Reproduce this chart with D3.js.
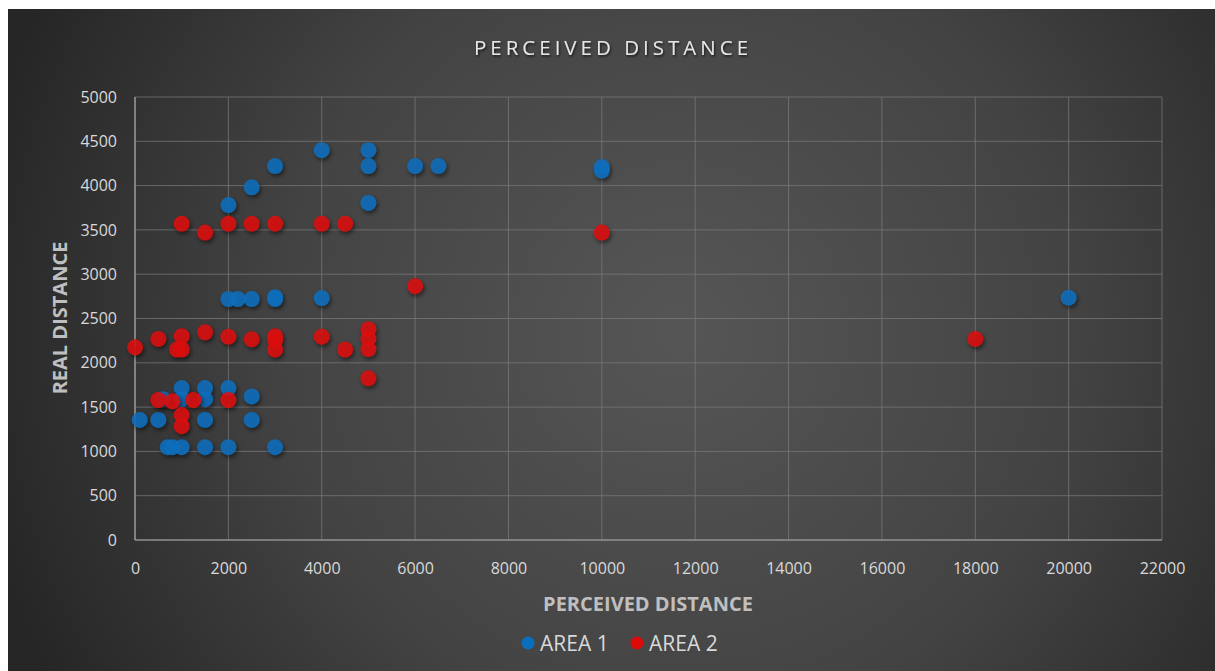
<!DOCTYPE html>
<html>
<head>
<meta charset="utf-8">
<script src="https://cdn.jsdelivr.net/npm/d3@7"></script>
<style>
  html, body { margin: 0; padding: 0; background: #ffffff; }
  svg { display: block; }
</style>
</head>
<body>
<svg id="chart" width="1215" height="671"></svg>
<script>
// Series values: perceived distance (x) vs real distance (y)
const area1X = [4000, 5000, 3000, 5000, 6000, 6500, 10000, 10000, 2500, 2000, 5000,
                2000, 2200, 2500, 3000, 3000, 4000, 20000,
                1000, 1500, 2000, 600, 1000, 1500, 2500,
                100, 500, 1500, 2500,
                700, 800, 1000, 1500, 2000, 3000];
const area1Y = [4400, 4400, 4220, 4220, 4220, 4220, 4210, 4170, 3980, 3780, 3805,
                2720, 2720, 2720, 2720, 2740, 2730, 2735,
                1715, 1715, 1715, 1590, 1590, 1590, 1620,
                1355, 1355, 1355, 1355,
                1048, 1048, 1048, 1048, 1048, 1048];

const area2X = [1000, 2000, 2500, 3000, 4000, 4500, 1500, 10000, 6000, 18000,
                0, 500, 1000, 900, 1000, 1500, 2000, 2500, 3000, 3000, 3000,
                4000, 4500, 5000, 5000, 5000, 5000,
                500, 800, 1250, 2000, 1000, 1000];
const area2Y = [3570, 3570, 3570, 3570, 3570, 3570, 3470, 3470, 2865, 2270,
                2175, 2270, 2300, 2150, 2150, 2345, 2295, 2265, 2300, 2255, 2150,
                2295, 2150, 2380, 2275, 2155, 1825,
                1580, 1565, 1580, 1580, 1410, 1285];

const xTicks = [0, 2000, 4000, 6000, 8000, 10000, 12000, 14000, 16000, 18000, 20000, 22000];
const yTicks = [0, 500, 1000, 1500, 2000, 2500, 3000, 3500, 4000, 4500, 5000];

const seriesNames = ["AREA 1", "AREA 2"];
const seriesColors = ["#0a6ebd", "#dd0a0a"];

const chartTitle = "PERCEIVED DISTANCE";
const xTitle = "PERCEIVED DISTANCE";
const yTitle = "REAL DISTANCE";

const svg = d3.select("#chart");
const W = 1215, H = 671;
const font = "'Open Sans', 'Noto Sans', sans-serif";

const defs = svg.append("defs");
const bg = defs.append("radialGradient")
  .attr("id", "bgGrad")
  .attr("gradientUnits", "userSpaceOnUse")
  .attr("cx", 680).attr("cy", 330).attr("r", 720);
bg.append("stop").attr("offset", "0%").attr("stop-color", "#565656");
bg.append("stop").attr("offset", "55%").attr("stop-color", "#434343");
bg.append("stop").attr("offset", "100%").attr("stop-color", "#262626");

const shadow = defs.append("filter").attr("id", "dotShadow")
  .attr("x", "-50%").attr("y", "-50%").attr("width", "200%").attr("height", "200%");
shadow.append("feDropShadow")
  .attr("dx", 1.5).attr("dy", 2.5).attr("stdDeviation", 2)
  .attr("flood-color", "#000").attr("flood-opacity", 0.6);

const textShadow = defs.append("filter").attr("id", "txtShadow")
  .attr("x", "-10%").attr("y", "-50%").attr("width", "120%").attr("height", "200%");
textShadow.append("feDropShadow")
  .attr("dx", 1).attr("dy", 1.5).attr("stdDeviation", 1)
  .attr("flood-color", "#000").attr("flood-opacity", 0.7);

// chart background
svg.append("rect").attr("x", 8).attr("y", 9).attr("width", W - 8).attr("height", H - 9)
  .attr("fill", "url(#bgGrad)");

const plot = { left: 135, right: 1162, top: 97, bottom: 540 };

const x = d3.scaleLinear().domain([0, 22000]).range([plot.left, plot.right]);
const y = d3.scaleLinear().domain([0, 5000]).range([plot.bottom, plot.top]);

// gridlines
const grid = svg.append("g");
grid.selectAll("line.v").data(xTicks).join("line")
  .attr("x1", d => x(d)).attr("x2", d => x(d))
  .attr("y1", plot.top).attr("y2", plot.bottom)
  .attr("stroke", "#7a7a7a").attr("stroke-opacity", 0.75).attr("stroke-width", 1);
grid.selectAll("line.h").data(yTicks).join("line")
  .attr("x1", plot.left).attr("x2", plot.right)
  .attr("y1", d => y(d)).attr("y2", d => y(d))
  .attr("stroke", "#7a7a7a").attr("stroke-opacity", 0.75).attr("stroke-width", 1);

// value axis lines
svg.append("line").attr("x1", plot.left).attr("x2", plot.left)
  .attr("y1", plot.top).attr("y2", plot.bottom)
  .attr("stroke", "#a6a6a6").attr("stroke-width", 1.2);
svg.append("line").attr("x1", plot.left).attr("x2", plot.right)
  .attr("y1", plot.bottom).attr("y2", plot.bottom)
  .attr("stroke", "#a6a6a6").attr("stroke-width", 1.2);

// axes (labels only)
const xAxis = d3.axisBottom(x).tickValues(xTicks).tickSize(0).tickPadding(0).tickFormat(d3.format("d"));
const gx = svg.append("g").attr("transform", `translate(0,${plot.bottom + 28})`).call(xAxis);
gx.select(".domain").remove();
gx.selectAll("text").attr("fill", "#d9d9d9").attr("font-size", 16).attr("font-family", font).attr("dy", "0.35em");

const yAxis = d3.axisLeft(y).tickValues(yTicks).tickSize(0).tickPadding(0).tickFormat(d3.format("d"));
const gy = svg.append("g").attr("transform", `translate(${plot.left - 18},0)`).call(yAxis);
gy.select(".domain").remove();
gy.selectAll("text").attr("fill", "#d9d9d9").attr("font-size", 16).attr("font-family", font);

// data points
const series = [
  d3.zip(area1X, area1Y),
  d3.zip(area2X, area2Y)
];
series.forEach((pts, i) => {
  svg.append("g").attr("filter", "url(#dotShadow)")
    .selectAll("circle").data(pts).join("circle")
    .attr("cx", d => x(d[0])).attr("cy", d => y(d[1]))
    .attr("r", 8)
    .attr("fill", seriesColors[i]).attr("fill-opacity", 0.85);
});

// chart title
svg.append("text").attr("x", 613).attr("y", 55).attr("text-anchor", "middle")
  .attr("font-family", font).attr("font-size", 20.5).attr("letter-spacing", 4)
  .attr("fill", "#e6e6e6").attr("filter", "url(#txtShadow)")
  .text(chartTitle);

// axis titles
svg.append("text").attr("x", 648).attr("y", 611).attr("text-anchor", "middle")
  .attr("font-family", font).attr("font-size", 20).attr("font-weight", "bold")
  .attr("fill", "#bfbfbf").text(xTitle);
svg.append("text").attr("transform", `translate(67,318) rotate(-90)`).attr("text-anchor", "middle")
  .attr("font-family", font).attr("font-size", 20).attr("font-weight", "bold")
  .attr("fill", "#bfbfbf").text(yTitle);

// legend
const legend = svg.append("g");
const legendX = [528, 637];
seriesNames.forEach((name, i) => {
  legend.append("circle").attr("cx", legendX[i]).attr("cy", 643).attr("r", 6.5)
    .attr("fill", seriesColors[i]);
  legend.append("text").attr("x", legendX[i] + 12).attr("y", 651)
    .attr("font-family", font).attr("font-size", 21).attr("fill", "#d9d9d9").text(name);
});
</script>
</body>
</html>
